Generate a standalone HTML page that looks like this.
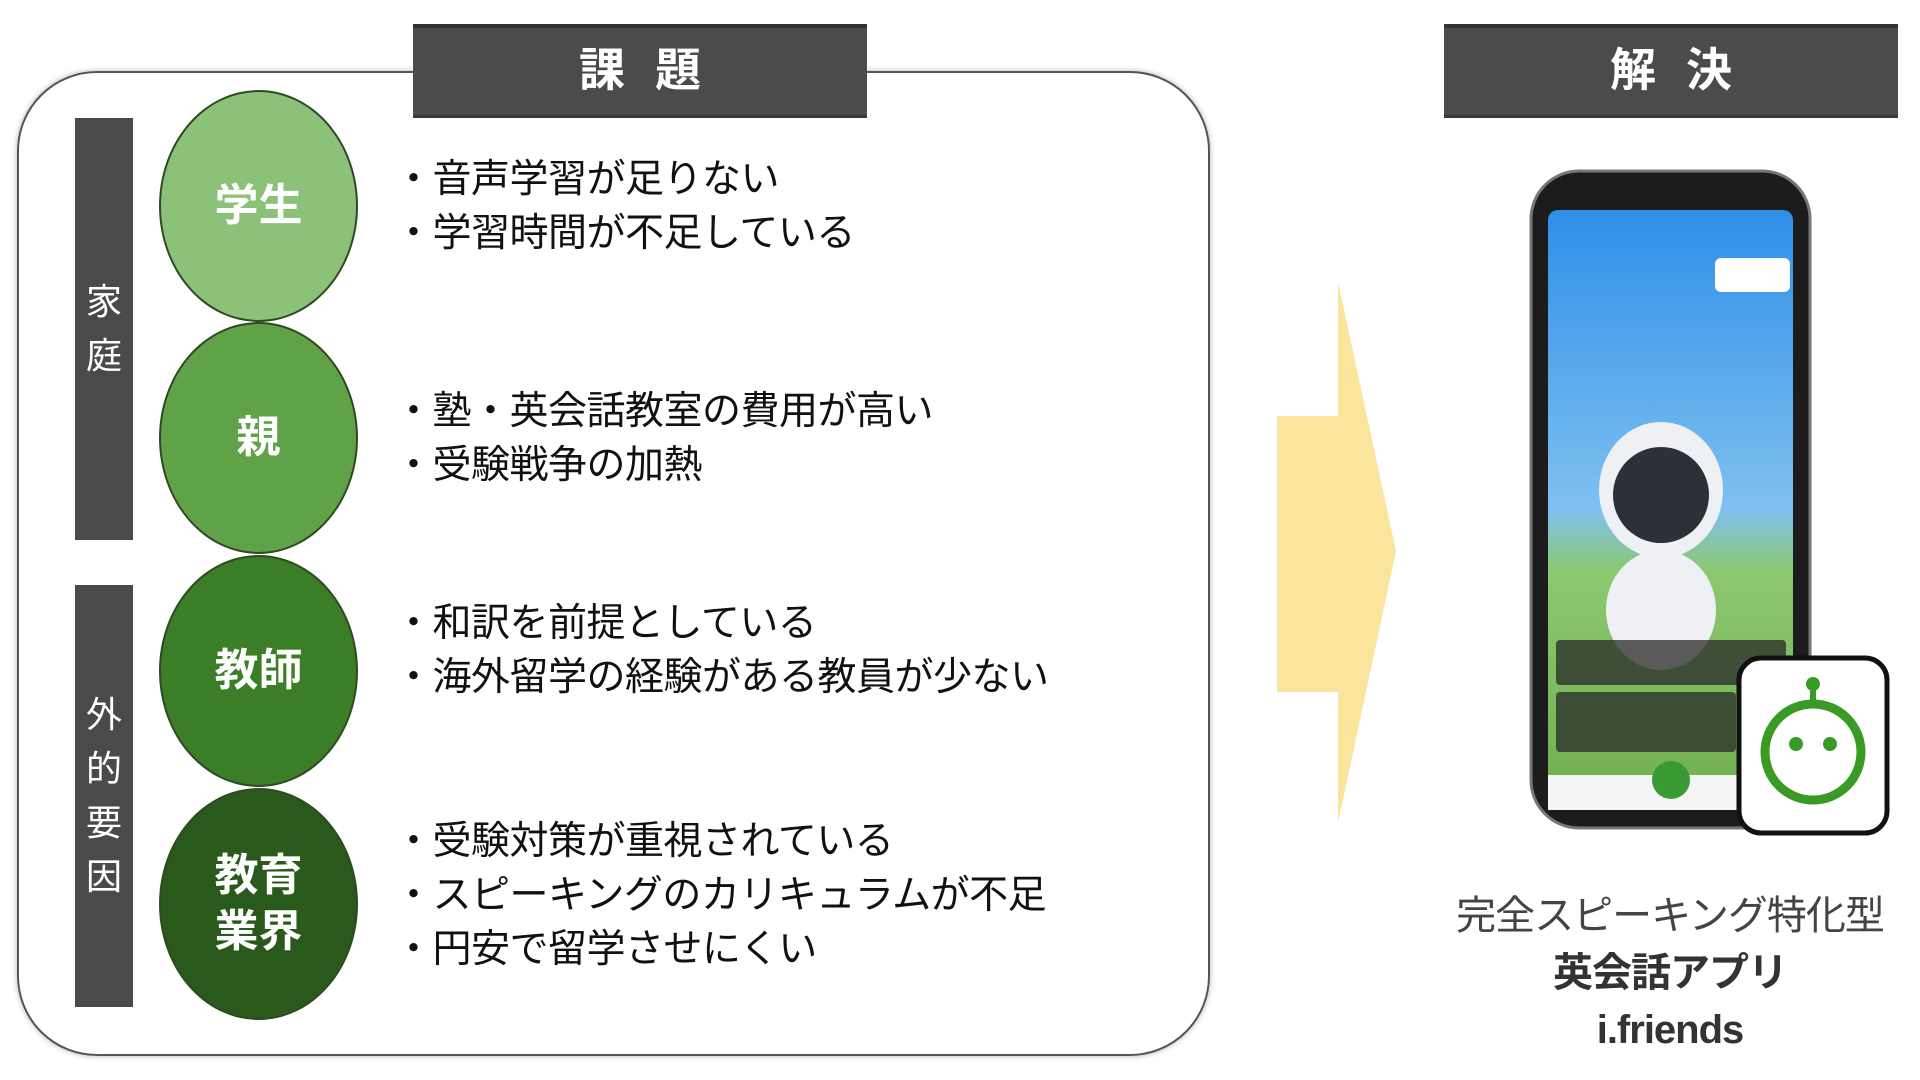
<!DOCTYPE html>
<html><head><meta charset="utf-8"><style>
*{margin:0;padding:0;box-sizing:border-box}
body{width:1920px;height:1080px;background:#fff;position:relative;overflow:hidden;font-family:"Liberation Sans","Noto Sans CJK JP",sans-serif}
.abs{position:absolute}
.hdr{background:#4b4b4b;border-top:4px solid #333;border-bottom:3px solid #3a3a3a;color:#fff;font-weight:bold;font-size:46px;text-align:center;line-height:84px;letter-spacing:30px;padding-left:30px}
.box{left:17px;top:71px;width:1193px;height:985px;border:2px solid #555;border-radius:80px;box-shadow:0 0 6px rgba(0,0,0,.3)}
.bar{background:#4a4a4a;left:75px;width:58px;color:#fff;font-size:36px;display:flex;flex-direction:column;align-items:center;justify-content:center;line-height:54px}
.c{left:159px;width:199px;height:232px;border-radius:50%;border:2px solid #2f4a22;color:#fff;font-weight:bold;font-size:44px;display:flex;align-items:center;justify-content:center;text-align:center;line-height:56px}
.t{left:394px;font-size:39px;color:#111;line-height:54px;white-space:nowrap;letter-spacing:-0.5px}
</style></head><body>
<div class="abs box"></div>
<div class="abs hdr" style="left:413px;top:24px;width:454px;height:94px">課題</div>
<div class="abs hdr" style="left:1444px;top:24px;width:454px;height:94px">解決</div>
<div class="abs bar" style="top:118px;height:422px">家<br>庭</div>
<div class="abs bar" style="top:585px;height:422px">外<br>的<br>要<br>因</div>
<div class="abs c" style="top:90px;background:#8cc17a">学生</div>
<div class="abs c" style="top:322px;background:#5fa248">親</div>
<div class="abs c" style="top:555px;background:#3b7e27">教師</div>
<div class="abs c" style="top:788px;background:#295a1c">教育<br>業界</div>
<div class="abs t" style="top:153px">・音声学習が足りない<br>・学習時間が不足している</div>
<div class="abs t" style="top:385px">・塾・英会話教室の費用が高い<br>・受験戦争の加熱</div>
<div class="abs t" style="top:597px">・和訳を前提としている<br>・海外留学の経験がある教員が少ない</div>
<div class="abs t" style="top:815px">・受験対策が重視されている<br>・スピーキングのカリキュラムが不足<br>・円安で留学させにくい</div>
<svg class="abs" style="left:0;top:0" width="1920" height="1080">
<polygon points="1277,416 1338,416 1338,282 1396,551 1338,823 1338,692 1277,692" fill="#fbe49c"/>
<rect x="1531" y="171" width="279" height="657" rx="48" fill="#1c1c1c" stroke="#777" stroke-width="3"/>
<defs><linearGradient id="sky" x1="0" y1="0" x2="0" y2="1"><stop offset="0" stop-color="#2f8fe8"/><stop offset="0.5" stop-color="#7fc0f0"/><stop offset="0.6" stop-color="#8cc870"/><stop offset="1" stop-color="#6fae50"/></linearGradient></defs>
<rect x="1548" y="210" width="245" height="600" rx="10" fill="url(#sky)"/>
<rect x="1548" y="775" width="245" height="35" fill="#f4f4f4"/>
<circle cx="1671" cy="780" r="19" fill="#3a9a34"/>
<ellipse cx="1661" cy="490" rx="62" ry="68" fill="#eef0f4"/>
<ellipse cx="1661" cy="495" rx="48" ry="48" fill="#2c3038"/>
<ellipse cx="1661" cy="610" rx="55" ry="60" fill="#eef0f4"/>
<rect x="1556" y="640" width="230" height="45" rx="4" fill="rgba(40,40,40,.75)"/>
<rect x="1556" y="692" width="180" height="60" rx="4" fill="rgba(40,40,40,.75)"/>
<rect x="1715" y="258" width="75" height="34" rx="6" fill="#fff"/>
<rect x="1739" y="658" width="148" height="175" rx="22" fill="#fff" stroke="#111" stroke-width="5"/>
<ellipse cx="1813" cy="752" rx="48" ry="48" fill="none" stroke="#3a9a26" stroke-width="9"/>
<line x1="1813" y1="704" x2="1813" y2="688" stroke="#3a9a26" stroke-width="6"/>
<circle cx="1813" cy="684" r="7" fill="#3a9a26"/>
<circle cx="1796" cy="744" r="7" fill="#3a9a26"/><circle cx="1830" cy="744" r="7" fill="#3a9a26"/>
</svg>
<div class="abs" style="left:1400px;top:888px;width:540px;text-align:center;color:#444;font-size:40px;line-height:57px;white-space:nowrap;letter-spacing:-1px">完全スピーキング特化型<br><b style="color:#333">英会話アプリ</b><br><b style="color:#333">i.friends</b></div>
</body></html>
